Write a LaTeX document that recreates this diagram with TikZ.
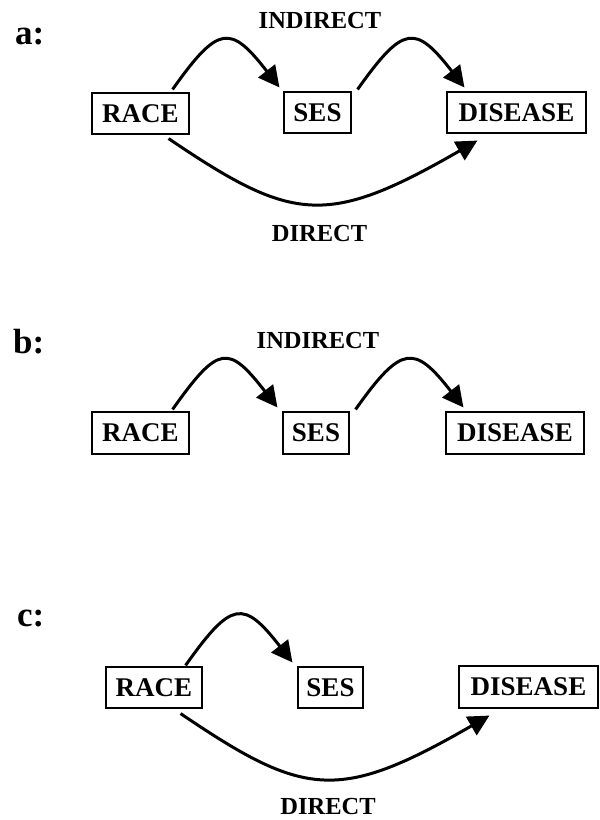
\documentclass[tikz,border=0pt]{standalone}
\usepackage{fontspec}
\setmainfont{Liberation Serif}
\usetikzlibrary{arrows.meta,calc}
\tikzset{
  varbox/.style={draw=black, line width=1.1pt, inner sep=0pt, minimum height=41pt,
    font=\fontsize{27}{30}\selectfont\bfseries},
  pathlabel/.style={inner sep=0pt, font=\fontsize{24.5}{28}\selectfont\bfseries},
  panellabel/.style={inner sep=0pt, anchor=base west, font=\fontsize{35}{38}\selectfont\bfseries},
  effect/.style={line width=3pt, -{Triangle[length=21pt,width=21pt]}},
}
\begin{document}
\begin{tikzpicture}[x=1pt,y=-1pt]
\useasboundingbox (0,0) rectangle (600,820);
% ---------- panel a ----------
\node[panellabel] (la) at (15,44) {a:};
\node[varbox, minimum width=97pt] (ra) at (140.5,113.5) {RACE};
\node[varbox, minimum width=67pt] (sa) at (317.5,112.5) {SES};
\node[varbox, minimum width=139pt] (da) at (516.5,112.5) {DISEASE};
\node[pathlabel] (ia) at (320,20.5) {INDIRECT};
\node[pathlabel] (dia) at (319.5,234) {DIRECT};
\draw[effect] ($(ra.north east)+(-17,-3)$) .. controls +(46,-65) and +(-49,-63) .. ($(sa.north west)+(-4,-4)$);
\draw[effect] ($(sa.north east)+(6,-2)$) .. controls +(46,-65) and +(-49,-63) .. ($(da.north west)+(18,-4)$);
\draw[effect] ($(ra.south east)+(-21,4)$) .. controls +(124,84) and +(-151,87) .. ($(da.south west)+(31,7)$);
% ---------- panel b ----------
\node[panellabel] (lb) at (13,353) {b:};
\node[varbox, minimum width=97pt, minimum height=42pt] (rb) at (140.5,433) {RACE};
\node[varbox, minimum width=66pt, minimum height=42pt] (sb) at (316,433) {SES};
\node[varbox, minimum width=138pt, minimum height=42pt] (db) at (515,433) {DISEASE};
\node[pathlabel] (ib) at (318,341) {INDIRECT};
\draw[effect] ($(rb.north east)+(-17,-2)$) .. controls +(46,-65) and +(-49,-63) .. ($(sb.north west)+(-5,-4)$);
\draw[effect] ($(sb.north east)+(6,-2)$) .. controls +(46,-65) and +(-49,-63) .. ($(db.north west)+(18,-4)$);
% ---------- panel c ----------
\node[panellabel] (lc) at (17,626) {c:};
\node[varbox, minimum width=96pt] (rc) at (154,687.5) {RACE};
\node[varbox, minimum width=65pt] (sc) at (330.5,687.5) {SES};
\node[varbox, minimum width=139pt, minimum height=42pt] (dc) at (528.5,687) {DISEASE};
\node[pathlabel] (dic) at (328,806) {DIRECT};
\draw[effect] ($(rc.north east)+(-17,-1)$) .. controls +(46,-65) and +(-49,-63) .. ($(sc.north west)+(-5,-4)$);
\draw[effect] ($(rc.south east)+(-22,5)$) .. controls +(124,84) and +(-151,87) .. ($(dc.south west)+(31,7)$);
\end{tikzpicture}
\end{document}
